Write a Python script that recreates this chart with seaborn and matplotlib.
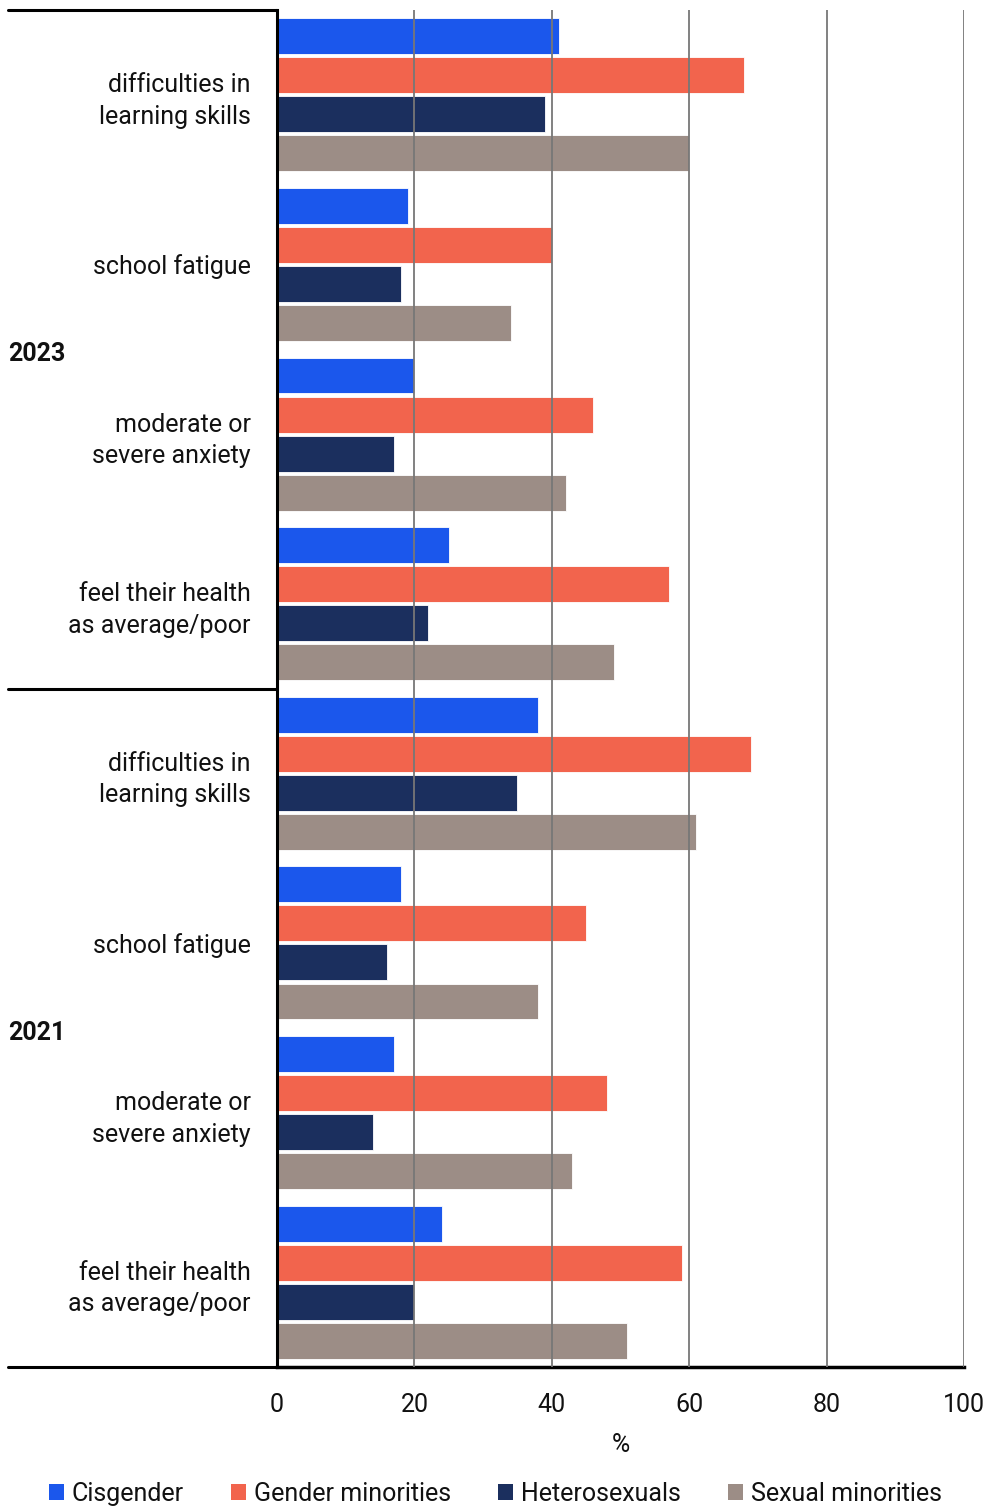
import pandas as pd
import numpy as np
import matplotlib.pyplot as plt
import seaborn as sns
from matplotlib.patches import Patch
from matplotlib.lines import Line2D
import matplotlib.transforms as mtransforms

sns.set_theme(style="white")
plt.rcParams['font.family'] = ['Roboto', 'DejaVu Sans']

# Data
years = ['2023', '2023', '2023', '2023', '2021', '2021', '2021', '2021']
categories = ['difficulties in\nlearning skills', 'school fatigue',
              'moderate or\nsevere anxiety', 'feel their health\nas average/poor'] * 2
groups = ['Cisgender', 'Gender minorities', 'Heterosexuals', 'Sexual minorities']
cisgender = [41, 19, 20, 25, 38, 18, 17, 24]
gender_min = [68, 40, 46, 57, 69, 45, 48, 59]
hetero = [39, 18, 17, 22, 35, 16, 14, 20]
sexual_min = [60, 34, 42, 49, 61, 38, 43, 51]
colors = ['#1B57EC', '#F2644D', '#1B2F5E', '#9C8D86']

keys = [f"{y} {c}" for y, c in zip(years, categories)]
rows = []
for g, vals in zip(groups, [cisgender, gender_min, hetero, sexual_min]):
    for k, v in zip(keys, vals):
        rows.append({'key': k, 'group': g, 'value': v})
df = pd.DataFrame(rows)

fig = plt.figure(figsize=(9.91, 15.06), dpi=100)
ax = fig.add_axes([277 / 991, 1 - 1367 / 1506, (964 - 277) / 991, (1367 - 10) / 1506])

sns.barplot(data=df, y='key', x='value', hue='group', order=keys, hue_order=groups,
            palette=colors, orient='h', width=0.92, gap=0.08, saturation=1,
            edgecolor='white', linewidth=0.6, legend=False, ax=ax)

ax.set_xlim(0, 100)
ax.set_ylim(7.5, -0.5)
ax.set_xticks([0, 20, 40, 60, 80, 100])
ax.set_yticks(range(len(keys)))
ax.set_yticklabels(categories, fontsize=18, ha='right', color='#111111',
                   linespacing=1.4)
ax.tick_params(axis='y', length=0, pad=19)
ax.tick_params(axis='x', length=0, pad=19, labelsize=18, colors='#111111')
ax.set_ylabel('')
ax.set_xlabel('%', fontsize=18, labelpad=11, color='#111111')

# vertical gridlines on top of bars
ax.set_axisbelow(False)
ax.xaxis.grid(True, color='#777777', linewidth=1.3)
ax.yaxis.grid(False)

for s in ['top', 'right']:
    ax.spines[s].set_visible(False)
ax.spines['left'].set_color('black')
ax.spines['left'].set_linewidth(2.2)
ax.spines['left'].set_zorder(5)
ax.spines['bottom'].set_color('black')
ax.spines['bottom'].set_linewidth(2.5)

# separator lines on the label side
trans = mtransforms.blended_transform_factory(fig.transFigure, ax.transData)
x0 = 8 / 991
x1 = 277 / 991
for yy in [-0.5, 3.5, 7.5]:
    ax.add_line(Line2D([x0, x1], [yy, yy], transform=trans, color='black',
                       linewidth=2.2, clip_on=False))

# year labels
for yy, lab in [(1.53, '2023'), (5.53, '2021')]:
    ax.text(x0, yy, lab, transform=trans, fontsize=18, fontweight='bold',
            ha='left', va='center', color='#111111')

handles = [Patch(facecolor=c, edgecolor='none') for c in colors]
fig.legend(handles, groups, loc='center', bbox_to_anchor=(0.5, 1 - 1494 / 1506),
           ncol=4, frameon=False, fontsize=18, handlelength=0.6, handleheight=0.6,
           handletextpad=0.3, columnspacing=1.9, labelcolor='#111111')

fig.savefig('out.png', dpi=100)
